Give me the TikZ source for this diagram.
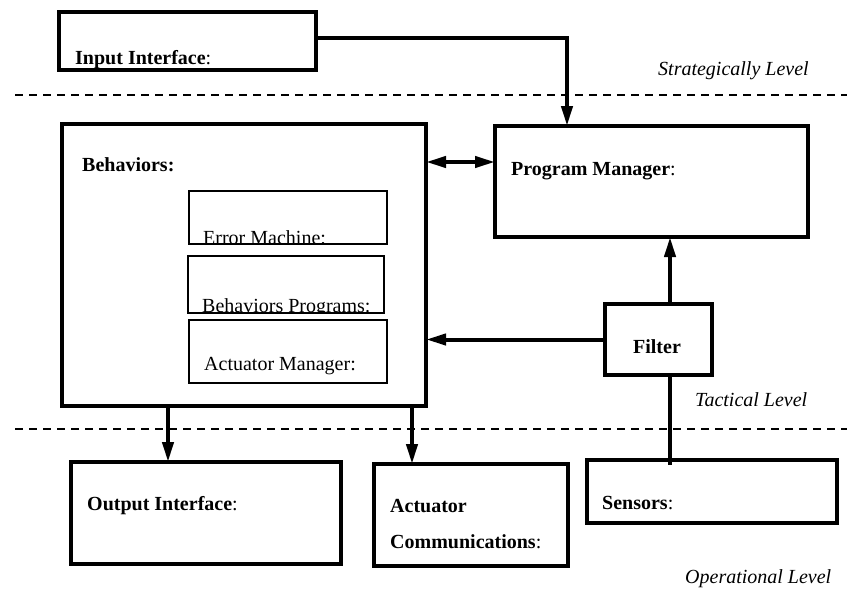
\documentclass[tikz,border=0pt]{standalone}
\usepackage{fontspec}
\setmainfont{Liberation Serif}
\usetikzlibrary{arrows.meta}
\begin{document}
\begin{tikzpicture}[x=1pt,y=-1pt,
  bigbox/.style={draw, line width=4pt, inner sep=0pt, outer sep=0pt, anchor=north west},
  smallbox/.style={draw, line width=1.3pt, inner sep=0pt, outer sep=0pt, anchor=north west},
  lbl/.style={anchor=base west, inner sep=0pt, font=\fontsize{20}{24}\selectfont},
  lvl/.style={anchor=base west, inner sep=0pt, font=\fontsize{20}{24}\selectfont\itshape},
  conn/.style={line width=4pt},
  arr/.style={line width=4pt, -{Triangle[length=20pt,width=11pt]}},
  arrboth/.style={line width=4pt, {Triangle[length=20pt,width=11pt]}-{Triangle[length=20pt,width=11pt]}},
  levelline/.style={line width=1.5pt, dash pattern=on 8pt off 6pt}
]
\useasboundingbox (0,0) rectangle (847,603);

% level separators
\coordinate (d1a) at (15,95);  \coordinate (d1b) at (847,95);
\coordinate (d2a) at (15,429); \coordinate (d2b) at (847,429);
\draw[levelline] (d1a) -- (d1b);
\draw[levelline] (d2a) -- (d2b);

% boxes
\node[bigbox, minimum width=257pt, minimum height=58pt] (input) at (59,12) {};
\node[bigbox, minimum width=364pt, minimum height=282pt] (beh) at (62,124) {};
\node[smallbox, minimum width=198pt, minimum height=53pt] (err) at (189,191) {};
\node[smallbox, minimum width=196pt, minimum height=57pt] (bprog) at (188,256) {};
\node[smallbox, minimum width=198pt, minimum height=63pt] (amgr) at (189,320) {};
\node[bigbox, minimum width=313pt, minimum height=111pt] (pm) at (495,126) {};
\node[bigbox, minimum width=107pt, minimum height=71pt] (filter) at (605,304) {};
\node[bigbox, minimum width=270pt, minimum height=102pt] (out) at (71,462) {};
\node[bigbox, minimum width=194pt, minimum height=102pt] (actc) at (374,464) {};
\node[bigbox, minimum width=250pt, minimum height=63pt] (sens) at (587,460) {};

% texts
\node[lbl] (tinput) at (75,64) {\textbf{Input Interface}:};
\node[lvl] (tstrat) at (658,75) {Strategically Level};
\node[lbl] (tbeh) at (82,171) {\textbf{Behaviors:}};
\begin{scope}
  \clip (err.south west) rectangle (err.north east);
  \node[lbl] (terr) at (203,244.5) {Error Machine:};
\end{scope}
\begin{scope}
  \clip (bprog.south west) rectangle (bprog.north east);
  \node[lbl] (tbprog) at (202,312) {Behaviors Programs:};
\end{scope}
\node[lbl] (tamgr) at (204,370) {Actuator Manager:};
\node[lbl] (tpm) at (511,175) {\textbf{Program Manager}:};
\node[lbl, anchor=base] (tfilter) at (657,353) {\textbf{Filter}};
\node[lvl] (ttact) at (695,406) {Tactical Level};
\node[lbl] (tout) at (87,510) {\textbf{Output Interface}:};
\node[lbl] (tact1) at (390,512) {\textbf{Actuator}};
\node[lbl] (tact2) at (390,548) {\textbf{Communications}:};
\node[lbl] (tsens) at (602,509) {\textbf{Sensors}:};
\node[lvl] (toper) at (685,583) {Operational Level};

% connectors
\coordinate (xin) at (567,0);
\coordinate (xfl) at (670,0);
\coordinate (xo) at (168,0);
\coordinate (xa) at (412,0);
\coordinate (ydbl) at (0,162);
\coordinate (yin) at (0,38);
\draw[arr] (input.east |- yin) -| (pm.north -| xin);
\draw[arrboth] (beh.east |- ydbl) -- (pm.west |- ydbl);
\draw[arr] (filter.north -| xfl) -- (pm.south -| xfl);
\draw[arr] (filter.west) -- (filter.west -| beh.east);
\draw[conn] (filter.south -| xfl) -- ([yshift=-5pt]sens.north -| xfl);
\draw[arr] (beh.south -| xo) -- (out.north -| xo);
\draw[arr] (beh.south -| xa) -- (actc.north -| xa);
\end{tikzpicture}
\end{document}
